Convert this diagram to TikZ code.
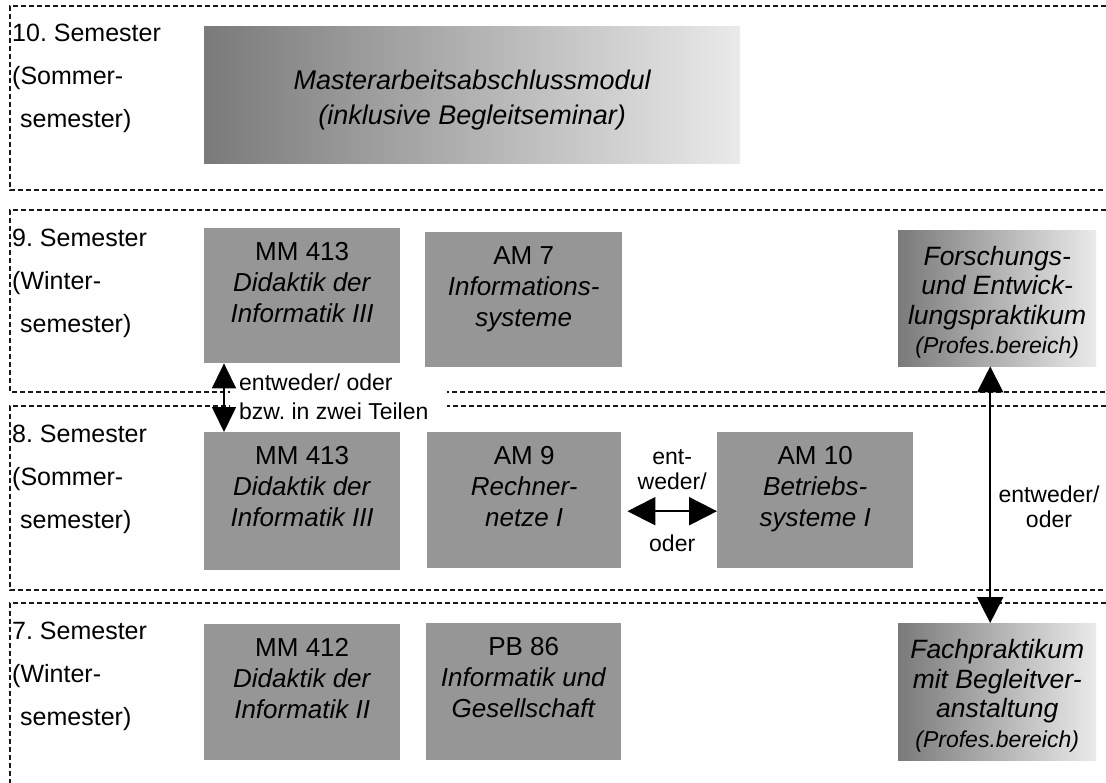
\documentclass[tikz,border=0pt]{standalone}
\usepackage{fontspec}
\setmainfont{Liberation Sans}
\usetikzlibrary{arrows.meta,calc}
\definecolor{boxgray}{RGB}{150,150,150}
\definecolor{dashgray}{RGB}{25,25,25}
\definecolor{gradL}{RGB}{122,122,122}
\definecolor{gradR}{RGB}{234,234,234}
\newcommand\modfont{\fontsize{26}{31}\selectfont}
\newcommand\gradfont{\fontsize{26.5}{29.5}\selectfont}
\newcommand\masterfont{\fontsize{27}{35}\selectfont}
\newcommand\semfont{\fontsize{25}{43}\selectfont}
\newcommand\arrfont{\fontsize{23}{25}\selectfont}
\newcommand\proffont{\fontsize{23}{31}\selectfont}
\frenchspacing
\begin{document}
\begin{tikzpicture}[x=1pt,y=-1pt,
  band/.style={dashgray, line width=1.5pt, dash pattern=on 5pt off 3pt},
  modbox/.style={fill=boxgray, draw=none, anchor=north west, inner sep=0pt},
  gradbox/.style={left color=gradL, right color=gradR, draw=none, anchor=north west, inner sep=0pt},
  gradtext/.style={inner sep=0pt, align=center},
  boxtext/.style={anchor=north, inner sep=0pt, align=center, yshift=-14pt, font=\modfont},
  semlabel/.style={anchor=north west, inner sep=0pt, align=left, font=\semfont},
  arrlabel/.style={inner sep=0pt, align=center, font=\arrfont},
  dblarrow/.style={line width=1.6pt, {Triangle[width=24pt,length=25pt]}-{Triangle[width=24pt,length=25pt]}},
  harrow/.style={line width=2pt, {Triangle[width=28pt,length=28pt]}-{Triangle[width=28pt,length=28pt]}},
  varrow/.style={line width=2pt, {Triangle[width=26pt,length=26pt]}-{Triangle[width=26pt,length=26pt]}},
]
\useasboundingbox (0,0) rectangle (1106,782);

% semester bands
\draw[band] (1106,6) -- (10,6) -- (10,190) -- (1106,190);
\draw[band] (1106,210) -- (10,210) -- (10,392) -- (1106,392);
\draw[band] (1106,406) -- (10,406) -- (10,590) -- (1106,590);
\draw[band] (1106,603) -- (10,603) -- (10,790);

% semester labels
\node[semlabel] (s10) at (12,24) {10. Semester\\(Sommer-\\\hspace{8pt}semester)};
\node[semlabel] (s9) at (12,229) {9. Semester\\(Winter-\\\hspace{8pt}semester)};
\node[semlabel] (s8) at (12,425) {8. Semester\\(Sommer-\\\hspace{8pt}semester)};
\node[semlabel] (s7) at (12,622) {7. Semester\\(Winter-\\\hspace{8pt}semester)};

% 10th semester
\node[gradbox, minimum width=536pt, minimum height=137pt] (master) at (204,26) {};
\node[gradtext, font=\masterfont\itshape] (mastert) at ($(master.center)+(0,5)$)
  {Masterarbeitsabschlussmodul\\(inklusive Begleitseminar)};

% 9th semester
\node[modbox, minimum width=196pt, minimum height=135pt] (mm413a) at (204,228) {};
\node[boxtext] (mm413at) at (mm413a.north) {MM 413\\\textit{Didaktik der}\\\textit{Informatik III}};
\node[modbox, minimum width=197pt, minimum height=135pt] (am7) at (425,232) {};
\node[boxtext] (am7t) at (am7.north) {AM 7\\\textit{Informations-}\\\textit{systeme}};
\node[gradbox, minimum width=198pt, minimum height=136pt] (forsch) at (898,230) {};
\node[gradtext, font=\gradfont\itshape] (forscht) at ($(forsch.center)+(0,4)$)
  {Forschungs-\\und Entwick-\\lungspraktikum\\{\proffont(Profes.bereich)}};

% 8th semester
\node[modbox, minimum width=196pt, minimum height=138pt] (mm413b) at (204,432) {};
\node[boxtext] (mm413bt) at (mm413b.north) {MM 413\\\textit{Didaktik der}\\\textit{Informatik III}};
\node[modbox, minimum width=194pt, minimum height=136pt] (am9) at (427,432) {};
\node[boxtext] (am9t) at (am9.north) {AM 9\\\textit{Rechner-}\\\textit{netze I}};
\node[modbox, minimum width=196pt, minimum height=136pt] (am10) at (717,432) {};
\node[boxtext] (am10t) at (am10.north) {AM 10\\\textit{Betriebs-}\\\textit{systeme I}};

% 7th semester
\node[modbox, minimum width=196pt, minimum height=136pt] (mm412) at (204,624) {};
\node[boxtext] (mm412t) at (mm412.north) {MM 412\\\textit{Didaktik der}\\\textit{Informatik II}};
\node[modbox, minimum width=195pt, minimum height=137pt] (pb86) at (426,623) {};
\node[boxtext] (pb86t) at (pb86.north) {PB 86\\\textit{Informatik und}\\\textit{Gesellschaft}};
\node[gradbox, minimum width=198pt, minimum height=137pt] (fach) at (898,623) {};
\node[gradtext, font=\gradfont\itshape] (facht) at ($(fach.center)+(0,4)$)
  {Fachpraktikum\\mit Begleitver-\\anstaltung\\{\proffont(Profes.bereich)}};

% left label with white background over the dashed lines
\fill[white] (230,368) rectangle (447,424);
\node[arrlabel, anchor=north west, align=left] (eo1) at (239,374) {entweder/ oder\\[4pt]bzw. in zwei Teilen};

% arrows
\draw[dblarrow] ($(mm413a.south west)+(20,0)$) -- ($(mm413b.north west)+(20,0)$);
\draw[harrow] ($(am9.east)+(6,11)$) -- ($(am10.west)+(0,11)$)
  node[midway, above=20pt, arrlabel] (eo2a) {ent-\\weder/}
  node[midway, below=23pt, arrlabel] (eo2b) {oder};
\draw[varrow] ($(forsch.south)+(-7,0)$) -- ($(fach.north)+(-7,0)$);
\node[arrlabel] (eo3) at (1049,507) {entweder/\\oder};
\end{tikzpicture}
\end{document}
